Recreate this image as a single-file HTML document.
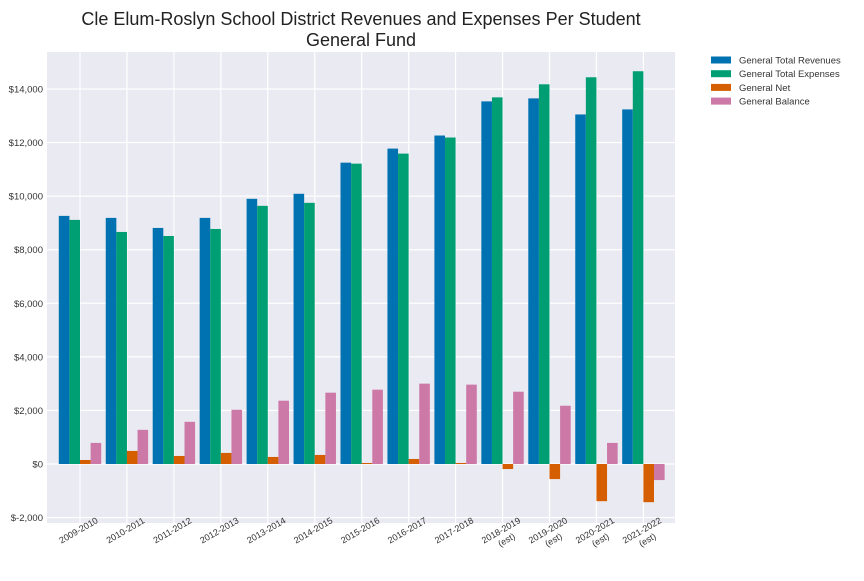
<!DOCTYPE html>
<html><head><meta charset="utf-8"><style>
body{margin:0;background:#fff;}
svg text{font-family:"Liberation Sans",Arial,sans-serif;}
</style></head><body>
<svg id="chart" width="864" height="576" xmlns="http://www.w3.org/2000/svg">
<text x="361" y="25" text-anchor="middle" font-size="18" fill="#222">Cle Elum-Roslyn School District Revenues and Expenses Per Student</text>
<text x="361" y="46" text-anchor="middle" font-size="18" fill="#222">General Fund</text>
<rect x="47" y="52" width="628" height="471" fill="#eaeaf2"/>
<g id="grid"></g><g id="bars"></g><g id="xlabels"></g><g id="ylabels"></g>
<g id="legend"></g>
</svg>
<script>
const categories=["2009-2010","2010-2011","2011-2012","2012-2013","2013-2014","2014-2015","2015-2016","2016-2017","2017-2018","2018-2019\n(est)","2019-2020\n(est)","2020-2021\n(est)","2021-2022\n(est)"];
const revenues=[9263,9188,8813,9188,9900,10088,11250,11775,12263,13538,13650,13050,13238];
const expenses=[9113,8663,8513,8775,9638,9750,11213,11588,12188,13688,14175,14438,14663];
const net=[150,488,300,413,263,338,38,188,38,-188,-563,-1388,-1425];
const balance=[788,1275,1575,2025,2363,2663,2775,3000,2963,2700,2175,788,-600];
const yTicks=[-2000,0,2000,4000,6000,8000,10000,12000,14000];
const yTickLabels=["$-2,000","$0","$2,000","$4,000","$6,000","$8,000","$10,000","$12,000","$14,000"];
const seriesNames=["General Total Revenues","General Total Expenses","General Net","General Balance"];
const colors=["#0072b2","#009e73","#d55e00","#cc79a7"];
const NS="http://www.w3.org/2000/svg";
function y(v){return 464-v*375/14000;}
function x(i){return 80+46.95*i;}
function mk(tag,attrs,parent){const e=document.createElementNS(NS,tag);for(const k in attrs)e.setAttribute(k,attrs[k]);parent.appendChild(e);return e;}
const grid=document.getElementById('grid'),bars=document.getElementById('bars'),xl=document.getElementById('xlabels'),yl=document.getElementById('ylabels'),lg=document.getElementById('legend');
yTicks.forEach((t,i)=>{
 const l=mk('line',{x1:47,x2:675,y1:y(t),y2:y(t),stroke:'#fff','stroke-width':1.2},grid);
 
 
 const tx=mk('text',{x:43,y:y(t)+3.5,'text-anchor':'end','font-size':9.5,fill:'#333'},yl);
 tx.textContent=yTickLabels[i];
 
 
});
categories.forEach((c,i)=>{
 const l=mk('line',{x1:x(i),x2:x(i),y1:52,y2:523,stroke:'#fff','stroke-width':1.2},grid);
 
 
 const parts=c.split('\n');
 const g=mk('g',{transform:`translate(${x(i)},533) rotate(-30)`},xl);
 
 
 parts.forEach((p,j)=>{const t=mk('text',{x:0,y:j*11,'text-anchor':'middle','font-size':9,fill:'#333'},g);t.textContent=p;});
});
const all=[revenues,expenses,net,balance];
const bw=10.6;
all.forEach((s,si)=>{
 s.forEach((v,i)=>{
  const bx=x(i)-2*bw+si*bw;
  const r=mk('rect',{x:bx,y:Math.min(y(v),y(0)),width:bw,height:Math.abs(y(v)-y(0)),fill:colors[si]},bars);
  
  
 });
 const ly=60+si*13.7;
 const sw=mk('rect',{x:711,y:ly-3.5,width:20,height:7,fill:colors[si]},lg);
 
 
 const t=mk('text',{x:739,y:ly+3.5,'font-size':9.5,fill:'#333'},lg);
 t.textContent=seriesNames[si];
 
 
});
</script>
</body></html>
